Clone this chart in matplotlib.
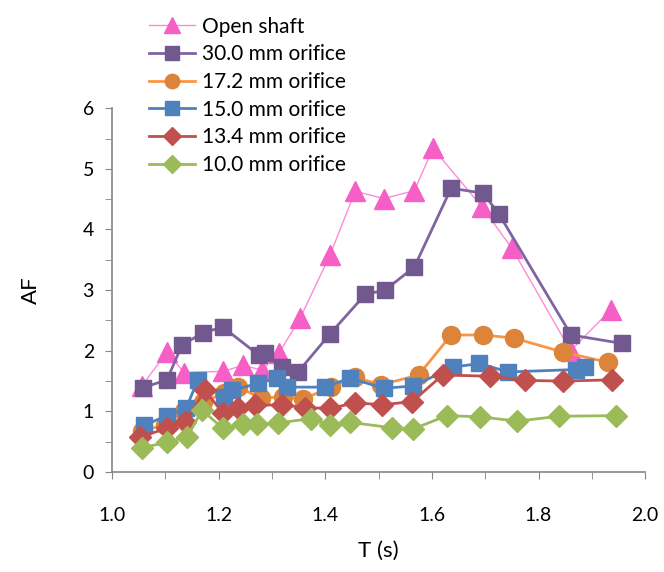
import matplotlib.pyplot as plt
from matplotlib.ticker import MultipleLocator

plt.rcParams['font.family'] = ['Lato', 'DejaVu Sans']

# data: T (s) and AF for every case
t_open = [1.056, 1.103, 1.135, 1.208, 1.246, 1.281, 1.313, 1.353, 1.409, 1.456,
          1.51, 1.567, 1.602, 1.694, 1.75, 1.86, 1.936]
af_open = [1.42, 1.98, 1.64, 1.66, 1.76, 1.68, 1.96, 2.54, 3.58, 4.63,
           4.51, 4.64, 5.34, 4.37, 3.69, 2.0, 2.68]

t_30 = [1.058, 1.103, 1.131, 1.171, 1.208, 1.275, 1.287, 1.319, 1.349, 1.409,
        1.475, 1.512, 1.567, 1.636, 1.696, 1.726, 1.861, 1.957]
af_30 = [1.39, 1.52, 2.09, 2.30, 2.39, 1.93, 1.96, 1.74, 1.65, 2.28,
         2.93, 3.00, 3.38, 4.68, 4.60, 4.25, 2.26, 2.12]

t_172 = [1.056, 1.10, 1.135, 1.17, 1.21, 1.236, 1.28, 1.32, 1.358, 1.41,
         1.456, 1.505, 1.575, 1.636, 1.695, 1.753, 1.845, 1.93]
af_172 = [0.68, 0.78, 1.00, 1.15, 1.30, 1.40, 1.22, 1.24, 1.20, 1.40,
          1.56, 1.44, 1.60, 2.26, 2.26, 2.21, 1.98, 1.81]

t_150 = [1.06, 1.103, 1.139, 1.161, 1.21, 1.225, 1.274, 1.31, 1.328, 1.40,
         1.446, 1.51, 1.565, 1.64, 1.689, 1.743, 1.87, 1.887]
af_150 = [0.77, 0.93, 1.05, 1.52, 1.24, 1.35, 1.46, 1.55, 1.40, 1.40,
          1.55, 1.38, 1.42, 1.73, 1.79, 1.65, 1.69, 1.73]

t_134 = [1.053, 1.103, 1.137, 1.174, 1.208, 1.236, 1.268, 1.319, 1.362, 1.409,
         1.456, 1.507, 1.563, 1.62, 1.709, 1.775, 1.845, 1.938]
af_134 = [0.58, 0.72, 0.82, 1.35, 0.97, 1.05, 1.10, 1.11, 1.06, 1.05,
          1.14, 1.11, 1.16, 1.60, 1.58, 1.51, 1.50, 1.52]

t_100 = [1.056, 1.103, 1.141, 1.169, 1.208, 1.246, 1.272, 1.311, 1.373, 1.409,
         1.446, 1.525, 1.565, 1.628, 1.69, 1.76, 1.839, 1.946]
af_100 = [0.40, 0.49, 0.58, 1.02, 0.72, 0.80, 0.79, 0.81, 0.88, 0.77,
          0.82, 0.73, 0.71, 0.93, 0.91, 0.84, 0.92, 0.93]

fig = plt.figure(figsize=(6.64, 5.72), dpi=100)
ax = fig.add_axes([0.1687, 0.1748, 0.803, 0.636])

ax.plot(t_open, af_open, color='#FF8AD8', lw=1.0, marker='^', ms=14,
        mfc='#F55FC6', mec='#F55FC6', label='Open shaft')
ax.plot(t_30, af_30, color='#8064A2', lw=2, marker='s', ms=12,
        mfc='#71588F', mec='#71588F', label='30.0 mm orifice')
ax.plot(t_172, af_172, color='#F79646', lw=2, marker='o', ms=13,
        mfc='#DD843B', mec='#DD843B', label='17.2 mm orifice')
ax.plot(t_150, af_150, color='#4F81BD', lw=2, marker='s', ms=12,
        mfc='#4F81BD', mec='#4F81BD', label='15.0 mm orifice')
ax.plot(t_134, af_134, color='#C0504D', lw=2, marker='D', ms=11,
        mfc='#C0504D', mec='#C0504D', label='13.4 mm orifice')
ax.plot(t_100, af_100, color='#9BBB59', lw=2, marker='D', ms=11,
        mfc='#9BBB59', mec='#9BBB59', label='10.0 mm orifice')

ax.set_xlim(1.0, 2.0)
ax.set_ylim(0, 6)
ax.xaxis.set_major_locator(MultipleLocator(0.2))
ax.xaxis.set_minor_locator(MultipleLocator(0.1))
ax.yaxis.set_major_locator(MultipleLocator(1))
ax.yaxis.set_minor_locator(MultipleLocator(0.5))
ax.xaxis.set_major_formatter(plt.FormatStrFormatter('%.1f'))
ax.tick_params(which='both', direction='out', length=5, color='#868686',
               labelsize=14)
ax.tick_params(axis='x', pad=20)
ax.tick_params(axis='y', pad=8)
for s in ['top', 'right']:
    ax.spines[s].set_visible(False)
for s in ['left', 'bottom']:
    ax.spines[s].set_color('#868686')
    ax.spines[s].set_linewidth(1.2)

ax.set_xlabel('T (s)', fontsize=16, labelpad=12)
ax.set_ylabel('AF', fontsize=16, labelpad=30)

fig.legend(loc='upper left', bbox_to_anchor=(0.2, 1.0), frameon=False,
           fontsize=15, markerscale=0.8, handlelength=2.2, handletextpad=0.3,
           labelspacing=0.37, borderpad=0.3)

fig.savefig('out.png')
